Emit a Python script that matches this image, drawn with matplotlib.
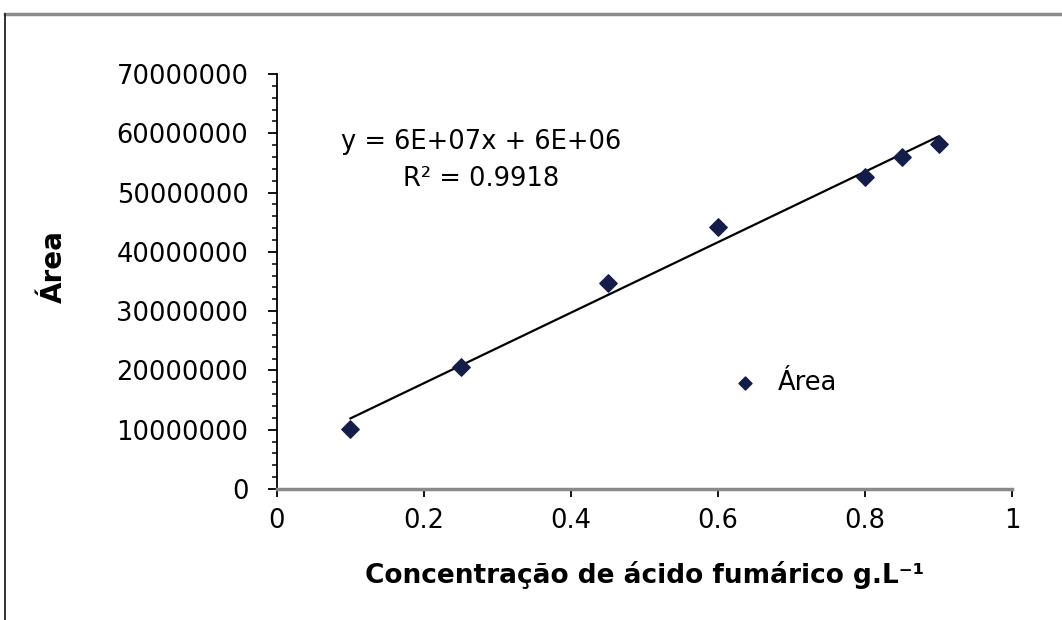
import numpy as np
import matplotlib
matplotlib.use("Agg")
import matplotlib.pyplot as plt
from matplotlib.lines import Line2D
from matplotlib.ticker import MultipleLocator

# calibration points: fumaric acid concentration (g/L) vs peak area
conc = [0.1, 0.25, 0.45, 0.6, 0.8, 0.85, 0.9]
area = [10.1e6, 20.6e6, 34.8e6, 44.2e6, 52.7e6, 56.0e6, 58.2e6]
xticks = [0, 0.2, 0.4, 0.6, 0.8, 1]
xtick_labels = ["0", "0.2", "0.4", "0.6", "0.8", "1"]
yticks = [0, 10000000, 20000000, 30000000, 40000000, 50000000, 60000000, 70000000]
eq_text = "y = 6E+07x + 6E+06"
r2_text = "R² = 0.9918"

plt.rcParams["font.family"] = ["DejaVu Sans"]

fig = plt.figure(figsize=(10.62, 6.2), dpi=100)
ax = fig.add_axes([0.2608, 0.2113, 0.6922, 0.6693])

navy = "#141c4a"
ax.scatter(conc, area, marker="D", s=78, color=navy, zorder=3, label="Área")

# linear trendline over the data range
m, b = np.polyfit(conc, area, 1)
xl = np.array([min(conc), max(conc)])
ax.plot(xl, m * xl + b, color="black", lw=1.6, zorder=2)

ax.set_xlim(0, 1)
ax.set_ylim(0, 70000000)
ax.set_xticks(xticks)
ax.set_xticklabels(xtick_labels)
ax.set_yticks(yticks)
ax.set_yticklabels([str(v) for v in yticks])
ax.yaxis.set_minor_locator(MultipleLocator(2000000))

for s in ["top", "right"]:
    ax.spines[s].set_visible(False)
ax.spines["left"].set_color("black")
ax.spines["left"].set_linewidth(1.3)
ax.spines["bottom"].set_color("#8a8a8a")
ax.spines["bottom"].set_linewidth(2.5)

ax.tick_params(axis="y", which="major", direction="out", length=6.5, width=1.3,
               labelsize=18.5, pad=14)
ax.tick_params(axis="y", which="minor", direction="out", length=3.5, width=1.1)
ax.tick_params(axis="x", which="major", direction="out", length=6, width=1.3,
               labelsize=18.5, pad=8)

ax.set_xlabel("Concentração de ácido fumárico g.L⁻¹", fontsize=19,
              fontweight="bold", labelpad=19)
ax.set_ylabel("Área", fontsize=20, fontweight="bold")
ax.yaxis.set_label_coords(-0.284, 0.535)

ax.text(0.278, 0.835, eq_text, transform=ax.transAxes, ha="center",
        va="center", fontsize=18.5)
ax.text(0.278, 0.748, r2_text, transform=ax.transAxes, ha="center",
        va="center", fontsize=18.5)

ax.legend(loc="center left", bbox_to_anchor=(0.57, 0.255), frameon=False,
          fontsize=18.5, handletextpad=0.3, markerscale=0.75)

# outer chart frame (top and left edges)
fig.add_artist(Line2D([0.0047, 1.0], [0.978, 0.978], transform=fig.transFigure,
                      color="#8c8c8c", lw=2.5))
fig.add_artist(Line2D([0.0047, 0.0047], [0.0, 0.978], transform=fig.transFigure,
                      color="#222222", lw=1.3))

fig.savefig("out.png", dpi=100)
